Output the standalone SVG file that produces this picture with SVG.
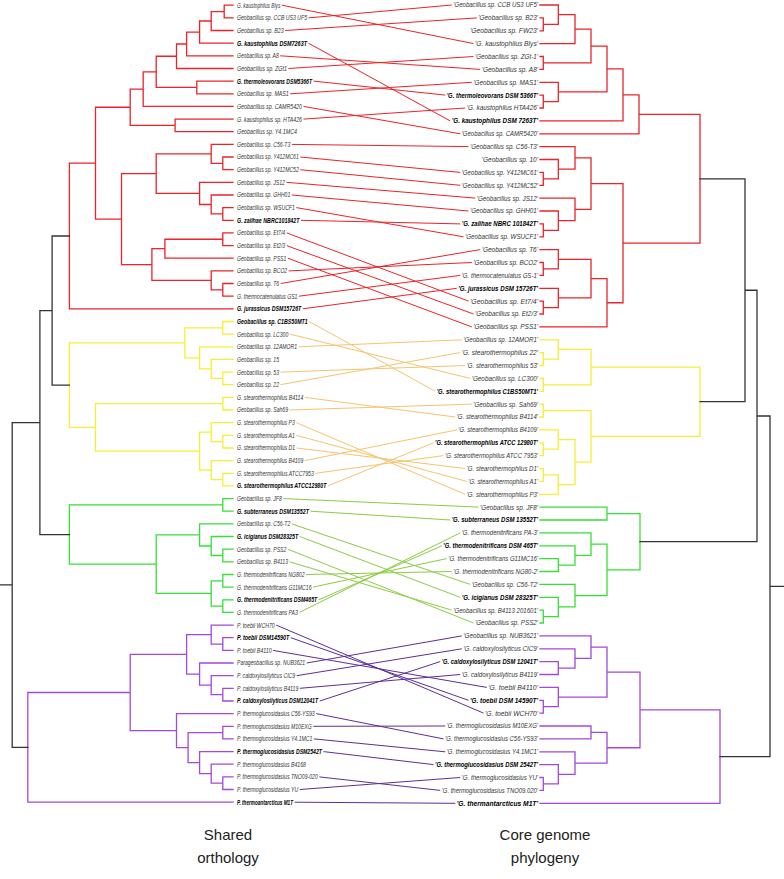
<svg xmlns="http://www.w3.org/2000/svg" width="784" height="879" viewBox="0 0 784 879">
<style>
.t{fill:none;stroke-width:1.3;stroke-linecap:square}
.k{stroke:#333}.r{stroke:#ec2329}.y{stroke:#f6ee35}.g{stroke:#36e036}.p{stroke:#a448dc}
.c{fill:none;stroke-width:1}
.cr{stroke:#ec2329}.cy{stroke:#f5c46e}.cg{stroke:#8ccb45}.cp{stroke:#5e2e96}
text{font-family:"Liberation Sans",Arial,sans-serif;font-size:7px;font-style:italic;fill:#333}
.b{font-weight:bold;fill:#000}
.R text{text-anchor:end}
.cap{font-style:normal;font-size:15px;fill:#222;text-anchor:middle}
</style>
<g id="left-tree">
<path class="t r" d="M233 5.2H224.2V17.9H233M224.2 11.55H211.2V30.5H233M211.2 21H199.6V43.2H233M199.6 32.1H186.6V55.8H233M186.6 44H176.5V68.5H233M233 81.1H196.8V93.8H233M233 119.1H175.1V131.7H233M176.5 56.25H156.2V87.45H196.8M156.2 71.85H143.2V106.4H233M143.2 89.1H130.2V125.4H175.1M233 157H222.8V169.7H233M233 144.4H211.2V163.35H222.8M233 207.6H222.8V220.3H233M233 195H211.2V213.95H222.8M233 182.3H199.6V204.5H211.2M211.2 153.9H156.2V193.4H199.6M233 232.9H222.8V245.6H233M222.8 239.25H164.9V258.2H233M233 283.5H222.8V296.2H233M233 270.9H211.2V289.85H222.8M164.9 248.7H151.9V280.4H211.2M156.2 173.65H121.5V264.55H151.9M130.2 107.25H95.5V219.1H121.5M95.5 163.2H69.4V308.8H233"/>
<path class="t y" d="M233 321.5H222.8V334.1H233M233 372.1H222.8V384.7H233M233 359.4H211.2V378.4H222.8M233 346.8H199.6V368.9H211.2M222.8 327.8H184.9V357.85H199.6M233 397.4H222.8V410H233M233 435.3H222.8V448H233M233 422.7H211.2V441.65H222.8M233 473.3H222.8V485.9H233M233 460.6H211.2V479.6H222.8M211.2 432.2H199.6V470.1H211.2M222.8 403.7H95.5V451.15H199.6M184.9 342.8H69.4V427.4H95.5"/>
<path class="t g" d="M233 498.6H222.8V511.2H233M233 549.2H222.8V561.8H233M233 536.5H211.2V555.5H222.8M233 523.9H199.6V546H211.2M233 574.5H222.8V587.1H233M233 599.8H222.8V612.4H233M222.8 580.8H211.2V606.1H222.8M199.6 534.95H156.2V593.45H211.2M222.8 504.9H69.4V564.2H156.2"/>
<path class="t p" d="M233 637.7H222.8V650.4H233M233 625.1H211.2V644.05H222.8M233 688.3H222.8V701H233M233 675.7H211.2V694.65H222.8M233 663H199.6V685.2H211.2M211.2 634.6H186.6V674.1H199.6M233 726.3H222.8V738.9H233M233 776.9H222.8V789.5H233M233 764.2H211.2V783.2H222.8M233 751.6H199.6V773.7H211.2M222.8 732.6H188.1V762.65H199.6M233 713.6H176.5V747.6H188.1M186.6 654.35H130.2V730.6H176.5M130.2 692.5H27.8V802.2H233"/>
<path class="t k" d="M69.4 236H52.1V385.1H69.4M52.1 310.55H39.9V534.55H69.4M39.9 422.55H12.2V747.35H27.8M12.2 584.95H0"/>
</g>
<g id="right-tree">
<path class="t r" d="M540 17.9H543.3V30.8H540M540 5H558.3V24.35H543.3M558.3 14.7H575V43.6H540M540 56.5H543.3V69.4H540M540 95.1H543.3V108H540M540 82.3H558.3V101.55H543.3M575 29.15H591V62.95H543.3M591 46.05H607V91.9H558.3M607 68.95H623V120.9H540M623 94.9H639V133.8H540M540 172.4H543.3V185.3H540M540 159.5H558.3V178.85H543.3M540 146.6H575V169.2H558.3M540 223.9H543.3V236.8H540M540 211H558.3V230.35H543.3M540 198.1H575V220.7H558.3M540 262.5H543.3V275.4H540M540 249.6H558.3V268.95H543.3M540 301.1H543.3V314H540M540 288.3H558.3V307.55H543.3M575 157.9H591V209.4H575M558.3 259.3H591V297.9H558.3M591 278.6H607V326.9H540M591 183.65H623V302.75H607M639 114.35H700V243.2H623"/>
<path class="t y" d="M540 352.6H543.3V365.5H540M540 339.8H558.3V359.05H543.3M540 378.4H543.3V391.3H540M540 404.1H543.3V417H540M540 442.8H543.3V455.6H540M540 429.9H558.3V449.2H543.3M540 468.5H543.3V481.4H540M543.3 474.95H558.3V494.3H540M558.3 439.55H575V484.6H558.3M558.3 349.4H591V384.85H543.3M543.3 410.55H591V462.1H575M591 367.1H700V436.3H591"/>
<path class="t g" d="M540 558.6H558.3V571.5H540M540 545.8H575V565.05H558.3M540 532.9H591V555.4H575M540 610.1H543.3V623H540M540 597.3H558.3V616.55H543.3M540 584.4H575V606.9H558.3M591 544.15H607V595.65H575M540 507.1H607V520H540M607 513.55H640V569.9H607"/>
<path class="t p" d="M540 661.6H558.3V674.5H540M540 648.8H575V668.05H558.3M540 635.9H591V658.4H575M540 700.3H543.3V713.1H540M540 687.4H558.3V706.7H543.3M540 777.5H543.3V790.4H540M540 764.6H558.3V783.95H543.3M540 751.8H575V774.3H558.3M540 726H591V738.9H540M591 732.45H607V763.05H575M591 647.15H607V697.05H558.3M607 672.1H640V747.75H607M640 709.9H720V803.3H540"/>
<path class="t k" d="M700 178.8H745V401.7H700M745 290.25H757V541.7H640M757 416H770V756.6H720M770 586.3H784"/>
</g>
<g id="connectors">
<path class="c cr" d="M281.8 5.2L473.5 43.6M308.5 17.9L451.8 5M285.2 30.5L476.8 17.9M308.5 43.2L450.2 120.9M280.2 55.8L480.2 69.4M288.5 68.5L473.5 56.5M313.5 81.1L445.2 95.1M290.2 93.8L471.8 82.3M303.5 106.4L460.2 133.8M303.5 119.1L465.2 108M291.8 144.4L468.5 146.6M300.3 157L460.2 172.4M300.3 169.7L460.2 185.3M286.4 182.3L475.2 198.1M291.8 195L468.5 211M296.3 207.6L463.5 236.8M301 220.3L460.2 223.9M286.7 232.9L468.5 301.1M286.7 245.6L473.5 314M287.8 258.2L471.8 326.9M288.7 270.9L471.8 262.5M280.7 283.5L480.2 249.6M298.9 296.2L460.2 275.4M302.8 308.8L456.8 288.3"/>
<path class="c cy" d="M309.2 321.5L435.2 391.3M289.8 334.1L470.2 378.4M298.6 346.8L461.8 339.8M280.5 372.1L465.2 365.5M280.5 384.7L460.2 352.6M304.8 397.4L455.2 417M289.5 410L471.8 404.1M296.3 422.7L465.2 494.3M296.3 435.3L466.8 481.4M296.6 448L465.2 468.5M304.8 460.6L456.8 429.9M315.3 473.3L443.5 455.6M327.9 485.9L433.5 442.8"/>
<path class="c cg" d="M283.3 498.6L478.5 507.1M310.4 511.2L450.2 520M291.8 523.9L470.2 584.4M299.7 536.5L460.2 597.3M287.8 549.2L473.5 623M289.5 561.8L451.8 610.1M306 574.5L451.8 571.5M313 587.1L446.8 558.6M318.7 599.8L441.8 545.8M299.4 612.4L460.2 532.9"/>
<path class="c cp" d="M276.2 625.1L483.5 713.1M290.8 637.7L468.5 700.3M273.1 650.4L486.8 687.4M306.7 663L461.8 635.9M296.7 675.7L461.8 648.8M299.8 688.3L460.2 674.5M319.7 701L440.2 661.6M316.2 713.6L443.5 738.9M313.3 726.3L445.2 726M313.9 738.9L445.2 751.8M323.5 751.6L433.5 764.6M319.3 776.9L440.2 790.4M299.7 789.5L460.2 777.5M294.5 802.2L455.2 803.3"/>
</g>
<g id="left-labels">
<g id="L0"><text x="237" y="7.6" textLength="43.3" lengthAdjust="spacingAndGlyphs">G. kaustophilus Blys</text></g>
<g id="L1"><text x="237" y="20.3" textLength="70" lengthAdjust="spacingAndGlyphs">Geobacillus sp. CCB US3 UF5</text></g>
<g id="L2"><text x="237" y="32.9" textLength="46.7" lengthAdjust="spacingAndGlyphs">Geobacillus sp. B23</text></g>
<g id="L3"><text class="b" x="237" y="45.6" textLength="70" lengthAdjust="spacingAndGlyphs">G. kaustophilus DSM7263T</text></g>
<g id="L4"><text x="237" y="58.2" textLength="41.7" lengthAdjust="spacingAndGlyphs">Geobacillus sp. A8</text></g>
<g id="L5"><text x="237" y="70.9" textLength="50" lengthAdjust="spacingAndGlyphs">Geobacillus sp. ZGt1</text></g>
<g id="L6"><text class="b" x="237" y="83.5" textLength="75" lengthAdjust="spacingAndGlyphs">G. thermoleovorans DSM5366T</text></g>
<g id="L7"><text x="237" y="96.2" textLength="51.7" lengthAdjust="spacingAndGlyphs">Geobacillus sp. MAS1</text></g>
<g id="L8"><text x="237" y="108.8" textLength="65" lengthAdjust="spacingAndGlyphs">Geobacillus sp. CAMR5420</text></g>
<g id="L9"><text x="237" y="121.5" textLength="65" lengthAdjust="spacingAndGlyphs">G. kaustophilus sp. HTA426</text></g>
<g id="L10"><text x="237" y="134.1" textLength="60" lengthAdjust="spacingAndGlyphs">Geobacillus sp. Y4.1MC4</text></g>
<g id="L11"><text x="237" y="146.8" textLength="53.3" lengthAdjust="spacingAndGlyphs">Geobacillus sp. C56-T3</text></g>
<g id="L12"><text x="237" y="159.4" textLength="61.8" lengthAdjust="spacingAndGlyphs">Geobacillus sp. Y412MC61</text></g>
<g id="L13"><text x="237" y="172.1" textLength="61.8" lengthAdjust="spacingAndGlyphs">Geobacillus sp. Y412MC52</text></g>
<g id="L14"><text x="237" y="184.7" textLength="47.9" lengthAdjust="spacingAndGlyphs">Geobacillus sp. JS12</text></g>
<g id="L15"><text x="237" y="197.4" textLength="53.3" lengthAdjust="spacingAndGlyphs">Geobacillus sp. GHH01</text></g>
<g id="L16"><text x="237" y="210" textLength="57.8" lengthAdjust="spacingAndGlyphs">Geobacillus sp. WSUCF1</text></g>
<g id="L17"><text class="b" x="237" y="222.7" textLength="62.5" lengthAdjust="spacingAndGlyphs">G. zalihae NBRC101842T</text></g>
<g id="L18"><text x="237" y="235.3" textLength="48.2" lengthAdjust="spacingAndGlyphs">Geobacillus sp. Et7/4</text></g>
<g id="L19"><text x="237" y="248" textLength="48.2" lengthAdjust="spacingAndGlyphs">Geobacillus sp. Et2/3</text></g>
<g id="L20"><text x="237" y="260.6" textLength="49.3" lengthAdjust="spacingAndGlyphs">Geobacillus sp. PSS1</text></g>
<g id="L21"><text x="237" y="273.3" textLength="50.2" lengthAdjust="spacingAndGlyphs">Geobacillus sp. BCO2</text></g>
<g id="L22"><text x="237" y="285.9" textLength="42.2" lengthAdjust="spacingAndGlyphs">Geobacillus sp. T6</text></g>
<g id="L23"><text x="237" y="298.6" textLength="60.4" lengthAdjust="spacingAndGlyphs">G. thermocatenulatus GS1</text></g>
<g id="L24"><text class="b" x="237" y="311.2" textLength="64.3" lengthAdjust="spacingAndGlyphs">G. jurassicus DSM15726T</text></g>
<g id="L25"><text class="b" x="237" y="323.9" textLength="70.7" lengthAdjust="spacingAndGlyphs">Geobacillus sp. C1BS50MT1</text></g>
<g id="L26"><text x="237" y="336.5" textLength="51.3" lengthAdjust="spacingAndGlyphs">Geobacillus sp. LC300</text></g>
<g id="L27"><text x="237" y="349.2" textLength="60.1" lengthAdjust="spacingAndGlyphs">Geobacillus sp. 12AMOR1</text></g>
<g id="L28"><text x="237" y="361.8" textLength="42" lengthAdjust="spacingAndGlyphs">Geobacillus sp. 15</text></g>
<g id="L29"><text x="237" y="374.5" textLength="42" lengthAdjust="spacingAndGlyphs">Geobacillus sp. 53</text></g>
<g id="L30"><text x="237" y="387.1" textLength="42" lengthAdjust="spacingAndGlyphs">Geobacillus sp. 22</text></g>
<g id="L31"><text x="237" y="399.8" textLength="66.3" lengthAdjust="spacingAndGlyphs">G. stearothermophilus B4114</text></g>
<g id="L32"><text x="237" y="412.4" textLength="51" lengthAdjust="spacingAndGlyphs">Geobacillus sp. Sah69</text></g>
<g id="L33"><text x="237" y="425.1" textLength="57.8" lengthAdjust="spacingAndGlyphs">G. stearothermophilus P3</text></g>
<g id="L34"><text x="237" y="437.7" textLength="57.8" lengthAdjust="spacingAndGlyphs">G. stearothermophilus A1</text></g>
<g id="L35"><text x="237" y="450.4" textLength="58.1" lengthAdjust="spacingAndGlyphs">G. stearothermophilus D1</text></g>
<g id="L36"><text x="237" y="463" textLength="66.3" lengthAdjust="spacingAndGlyphs">G. stearothermophilus B4109</text></g>
<g id="L37"><text x="237" y="475.7" textLength="76.8" lengthAdjust="spacingAndGlyphs">G. stearothermophilus ATCC7953</text></g>
<g id="L38"><text class="b" x="237" y="488.3" textLength="89.4" lengthAdjust="spacingAndGlyphs">G. stearothermophilus ATCC12980T</text></g>
<g id="L39"><text x="237" y="501" textLength="44.8" lengthAdjust="spacingAndGlyphs">Geobacillus sp. JF8</text></g>
<g id="L40"><text class="b" x="237" y="513.6" textLength="71.9" lengthAdjust="spacingAndGlyphs">G. subterraneus DSM13552T</text></g>
<g id="L41"><text x="237" y="526.3" textLength="53.3" lengthAdjust="spacingAndGlyphs">Geobacillus sp. C56-T2</text></g>
<g id="L42"><text class="b" x="237" y="538.9" textLength="61.2" lengthAdjust="spacingAndGlyphs">G. icigianus DSM28325T</text></g>
<g id="L43"><text x="237" y="551.6" textLength="49.3" lengthAdjust="spacingAndGlyphs">Geobacillus sp. PSS2</text></g>
<g id="L44"><text x="237" y="564.2" textLength="51" lengthAdjust="spacingAndGlyphs">Geobacillus sp. B4113</text></g>
<g id="L45"><text x="237" y="576.9" textLength="67.5" lengthAdjust="spacingAndGlyphs">G. thermodenitrificans NG802</text></g>
<g id="L46"><text x="237" y="589.5" textLength="74.5" lengthAdjust="spacingAndGlyphs">G. thermodenitrificans G11MC16</text></g>
<g id="L47"><text class="b" x="237" y="602.2" textLength="80.2" lengthAdjust="spacingAndGlyphs">G. thermodenitrificans DSM465T</text></g>
<g id="L48"><text x="237" y="614.8" textLength="60.9" lengthAdjust="spacingAndGlyphs">G. thermodenitrificans PA3</text></g>
<g id="L49"><text x="237" y="627.5" textLength="37.7" lengthAdjust="spacingAndGlyphs">P. toebii WCH70</text></g>
<g id="L50"><text class="b" x="237" y="640.1" textLength="52.3" lengthAdjust="spacingAndGlyphs">P. toebii DSM14590T</text></g>
<g id="L51"><text x="237" y="652.8" textLength="34.6" lengthAdjust="spacingAndGlyphs">P. toebii B4110</text></g>
<g id="L52"><text x="237" y="665.4" textLength="68.2" lengthAdjust="spacingAndGlyphs">Parageobacillus sp. NUB3621</text></g>
<g id="L53"><text x="237" y="678.1" textLength="58.2" lengthAdjust="spacingAndGlyphs">P. caldoxylosilyticus CIC9</text></g>
<g id="L54"><text x="237" y="690.7" textLength="61.3" lengthAdjust="spacingAndGlyphs">P. caldoxylosilyticus B4119</text></g>
<g id="L55"><text class="b" x="237" y="703.4" textLength="81.2" lengthAdjust="spacingAndGlyphs">P. caldoxylosilyticus DSM12041T</text></g>
<g id="L56"><text x="237" y="716" textLength="77.7" lengthAdjust="spacingAndGlyphs">P. thermoglucosidasius C56-YS93</text></g>
<g id="L57"><text x="237" y="728.7" textLength="74.8" lengthAdjust="spacingAndGlyphs">P. thermoglucosidasius M10EXG</text></g>
<g id="L58"><text x="237" y="741.3" textLength="75.4" lengthAdjust="spacingAndGlyphs">P. thermoglucosidasius Y4.1MC1</text></g>
<g id="L59"><text class="b" x="237" y="754" textLength="85" lengthAdjust="spacingAndGlyphs">P. thermoglucosidasius DSM2542T</text></g>
<g id="L60"><text x="237" y="766.6" textLength="68.9" lengthAdjust="spacingAndGlyphs">P. thermoglucosidasius B4168</text></g>
<g id="L61"><text x="237" y="779.3" textLength="80.8" lengthAdjust="spacingAndGlyphs">P. thermoglucosidasius TNO09-020</text></g>
<g id="L62"><text x="237" y="791.9" textLength="61.2" lengthAdjust="spacingAndGlyphs">P. thermoglucosidasius YU</text></g>
<g id="L63"><text class="b" x="237" y="804.6" textLength="56" lengthAdjust="spacingAndGlyphs">P. thermoantarcticus M1T</text></g>
</g>
<g id="right-labels" class="R">
<g id="R0"><text x="538" y="7.4" textLength="84.7" lengthAdjust="spacingAndGlyphs">'Geobacillus sp. CCB US3 UF5'</text></g>
<g id="R1"><text x="538" y="20.3" textLength="59.7" lengthAdjust="spacingAndGlyphs">'Geobacillus sp. B23'</text></g>
<g id="R2"><text x="538" y="33.2" textLength="68" lengthAdjust="spacingAndGlyphs">'Geobacillus sp. FW23'</text></g>
<g id="R3"><text x="538" y="46" textLength="63" lengthAdjust="spacingAndGlyphs">'G. kaustophilus Blys'</text></g>
<g id="R4"><text x="538" y="58.9" textLength="63" lengthAdjust="spacingAndGlyphs">'Geobacillus sp. ZGt-1'</text></g>
<g id="R5"><text x="538" y="71.8" textLength="56.3" lengthAdjust="spacingAndGlyphs">'Geobacillus sp. A8'</text></g>
<g id="R6"><text x="538" y="84.7" textLength="64.7" lengthAdjust="spacingAndGlyphs">'Geobacillus sp. MAS1'</text></g>
<g id="R7"><text class="b" x="538" y="97.5" textLength="91.3" lengthAdjust="spacingAndGlyphs">'G. thermoleovorans DSM 5366T'</text></g>
<g id="R8"><text x="538" y="110.4" textLength="71.3" lengthAdjust="spacingAndGlyphs">'G. kaustophilus HTA426'</text></g>
<g id="R9"><text class="b" x="538" y="123.3" textLength="86.3" lengthAdjust="spacingAndGlyphs">'G. kaustophilus DSM 7263T'</text></g>
<g id="R10"><text x="538" y="136.2" textLength="76.3" lengthAdjust="spacingAndGlyphs">'Geobacillus sp. CAMR5420'</text></g>
<g id="R11"><text x="538" y="149" textLength="68" lengthAdjust="spacingAndGlyphs">'Geobacillus sp. C56-T3'</text></g>
<g id="R12"><text x="538" y="161.9" textLength="56.3" lengthAdjust="spacingAndGlyphs">'Geobacillus sp. 10'</text></g>
<g id="R13"><text x="538" y="174.8" textLength="76.3" lengthAdjust="spacingAndGlyphs">'Geobacillus sp. Y412MC61'</text></g>
<g id="R14"><text x="538" y="187.7" textLength="76.3" lengthAdjust="spacingAndGlyphs">'Geobacillus sp. Y412MC52'</text></g>
<g id="R15"><text x="538" y="200.5" textLength="61.3" lengthAdjust="spacingAndGlyphs">'Geobacillus sp. JS12'</text></g>
<g id="R16"><text x="538" y="213.4" textLength="68" lengthAdjust="spacingAndGlyphs">'Geobacillus sp. GHH01'</text></g>
<g id="R17"><text class="b" x="538" y="226.3" textLength="76.3" lengthAdjust="spacingAndGlyphs">'G. zalihae NBRC 101842T'</text></g>
<g id="R18"><text x="538" y="239.2" textLength="73" lengthAdjust="spacingAndGlyphs">'Geobacillus sp. WSUCF1'</text></g>
<g id="R19"><text x="538" y="252" textLength="56.3" lengthAdjust="spacingAndGlyphs">'Geobacillus sp. T6'</text></g>
<g id="R20"><text x="538" y="264.9" textLength="64.7" lengthAdjust="spacingAndGlyphs">'Geobacillus sp. BCO2'</text></g>
<g id="R21"><text x="538" y="277.8" textLength="76.3" lengthAdjust="spacingAndGlyphs">'G. thermocatenulatus GS-1'</text></g>
<g id="R22"><text class="b" x="538" y="290.7" textLength="79.7" lengthAdjust="spacingAndGlyphs">'G. jurassicus DSM 15726T'</text></g>
<g id="R23"><text x="538" y="303.5" textLength="68" lengthAdjust="spacingAndGlyphs">'Geobacillus sp. Et7/4'</text></g>
<g id="R24"><text x="538" y="316.4" textLength="63" lengthAdjust="spacingAndGlyphs">'Geobacillus sp. Et2/3'</text></g>
<g id="R25"><text x="538" y="329.3" textLength="64.7" lengthAdjust="spacingAndGlyphs">'Geobacillus sp. PSS1'</text></g>
<g id="R26"><text x="538" y="342.2" textLength="74.7" lengthAdjust="spacingAndGlyphs">'Geobacillus sp. 12AMOR1'</text></g>
<g id="R27"><text x="538" y="355" textLength="76.3" lengthAdjust="spacingAndGlyphs">'G. stearothermophilus 22'</text></g>
<g id="R28"><text x="538" y="367.9" textLength="71.3" lengthAdjust="spacingAndGlyphs">'G. stearothermophilus 53'</text></g>
<g id="R29"><text x="538" y="380.8" textLength="66.3" lengthAdjust="spacingAndGlyphs">'Geobacillus sp. LC300'</text></g>
<g id="R30"><text class="b" x="538" y="393.7" textLength="101.3" lengthAdjust="spacingAndGlyphs">'G. stearothermophilus C1BS50MT1'</text></g>
<g id="R31"><text x="538" y="406.5" textLength="64.7" lengthAdjust="spacingAndGlyphs">'Geobacillus sp. Sah69'</text></g>
<g id="R32"><text x="538" y="419.4" textLength="81.3" lengthAdjust="spacingAndGlyphs">'G. stearothermophilus B4114'</text></g>
<g id="R33"><text x="538" y="432.3" textLength="79.7" lengthAdjust="spacingAndGlyphs">'G. stearothermophilus B4109'</text></g>
<g id="R34"><text class="b" x="538" y="445.2" textLength="103" lengthAdjust="spacingAndGlyphs">'G. stearothermophilus ATCC 12980T'</text></g>
<g id="R35"><text x="538" y="458" textLength="93" lengthAdjust="spacingAndGlyphs">'G. stearothermophilus ATCC 7953'</text></g>
<g id="R36"><text x="538" y="470.9" textLength="71.3" lengthAdjust="spacingAndGlyphs">'G. stearothermophilus D1'</text></g>
<g id="R37"><text x="538" y="483.8" textLength="69.7" lengthAdjust="spacingAndGlyphs">'G. stearothermophilus A1'</text></g>
<g id="R38"><text x="538" y="496.7" textLength="71.3" lengthAdjust="spacingAndGlyphs">'G. stearothermophilus P3'</text></g>
<g id="R39"><text x="538" y="509.5" textLength="58" lengthAdjust="spacingAndGlyphs">'Geobacillus sp. JF8'</text></g>
<g id="R40"><text class="b" x="538" y="522.4" textLength="86.3" lengthAdjust="spacingAndGlyphs">'G. subterraneus DSM 13552T'</text></g>
<g id="R41"><text x="538" y="535.3" textLength="76.3" lengthAdjust="spacingAndGlyphs">'G. thermodenitrificans PA-3'</text></g>
<g id="R42"><text class="b" x="538" y="548.2" textLength="94.7" lengthAdjust="spacingAndGlyphs">'G. thermodenitrificans DSM 465T'</text></g>
<g id="R43"><text x="538" y="561" textLength="89.7" lengthAdjust="spacingAndGlyphs">'G. thermodenitrificans G11MC16'</text></g>
<g id="R44"><text x="538" y="573.9" textLength="84.7" lengthAdjust="spacingAndGlyphs">'G. thermodenitrificans NG80-2'</text></g>
<g id="R45"><text x="538" y="586.8" textLength="66.3" lengthAdjust="spacingAndGlyphs">'Geobacillus sp. C56-T2'</text></g>
<g id="R46"><text class="b" x="538" y="599.7" textLength="76.3" lengthAdjust="spacingAndGlyphs">'G. icigianus DSM 28325T'</text></g>
<g id="R47"><text x="538" y="612.5" textLength="84.7" lengthAdjust="spacingAndGlyphs">'Geobacillus sp. B4113 201601'</text></g>
<g id="R48"><text x="538" y="625.4" textLength="63" lengthAdjust="spacingAndGlyphs">'Geobacillus sp. PSS2'</text></g>
<g id="R49"><text x="538" y="638.3" textLength="74.7" lengthAdjust="spacingAndGlyphs">'Geobacillus sp. NUB3621'</text></g>
<g id="R50"><text x="538" y="651.2" textLength="74.7" lengthAdjust="spacingAndGlyphs">'G. caldoxylosilyticus CIC9'</text></g>
<g id="R51"><text class="b" x="538" y="664" textLength="96.3" lengthAdjust="spacingAndGlyphs">'G. caldoxylosilyticus DSM 12041T'</text></g>
<g id="R52"><text x="538" y="676.9" textLength="76.3" lengthAdjust="spacingAndGlyphs">'G. caldoxylosilyticus B4119'</text></g>
<g id="R53"><text x="538" y="689.8" textLength="49.7" lengthAdjust="spacingAndGlyphs">'G. toebii B4110'</text></g>
<g id="R54"><text class="b" x="538" y="702.7" textLength="68" lengthAdjust="spacingAndGlyphs">'G. toebii DSM 14590T'</text></g>
<g id="R55"><text x="538" y="715.5" textLength="53" lengthAdjust="spacingAndGlyphs">'G. toebii WCH70'</text></g>
<g id="R56"><text x="538" y="728.4" textLength="91.3" lengthAdjust="spacingAndGlyphs">'G. thermoglucosidasius M10EXG'</text></g>
<g id="R57"><text x="538" y="741.3" textLength="93" lengthAdjust="spacingAndGlyphs">'G. thermoglucosidasius C56-YS93'</text></g>
<g id="R58"><text x="538" y="754.2" textLength="91.3" lengthAdjust="spacingAndGlyphs">'G. thermoglucosidasius Y4.1MC1'</text></g>
<g id="R59"><text class="b" x="538" y="767" textLength="103" lengthAdjust="spacingAndGlyphs">'G. thermoglucosidasius DSM 2542T'</text></g>
<g id="R60"><text x="538" y="779.9" textLength="76.3" lengthAdjust="spacingAndGlyphs">'G. thermoglucosidasius YU'</text></g>
<g id="R61"><text x="538" y="792.8" textLength="96.3" lengthAdjust="spacingAndGlyphs">'G. thermoglucosidasius TNO09.020'</text></g>
<g id="R62"><text class="b" x="538" y="805.7" textLength="81.3" lengthAdjust="spacingAndGlyphs">'G. thermantarcticus M1T'</text></g>
</g>
<g id="captions">
<text class="cap" x="228" y="840">Shared</text>
<text class="cap" x="228" y="863">orthology</text>
<text class="cap" x="545" y="840">Core genome</text>
<text class="cap" x="545" y="863">phylogeny</text>
</g>
</svg>
